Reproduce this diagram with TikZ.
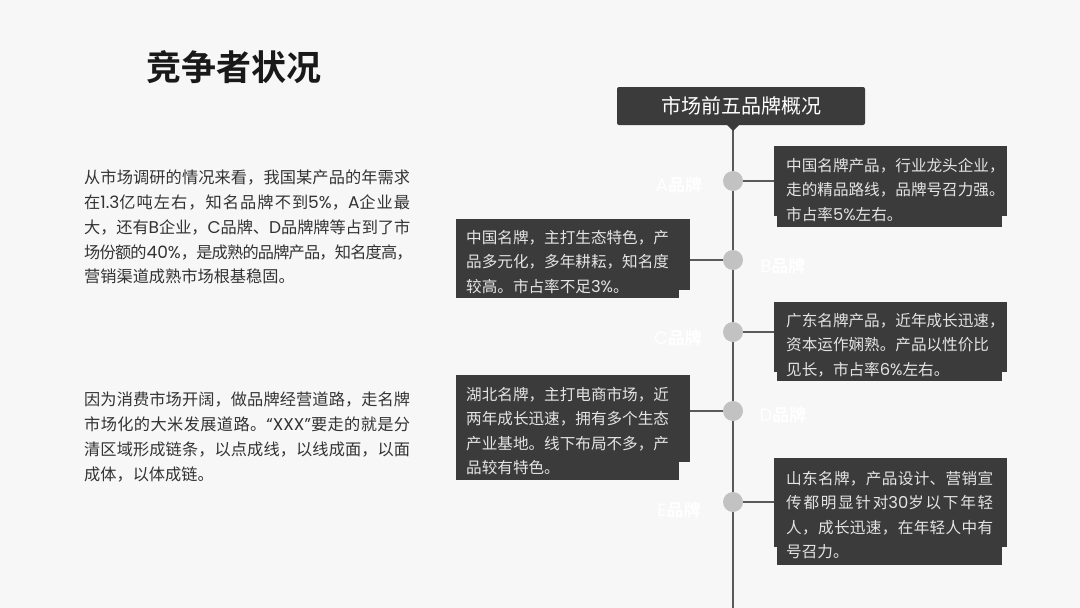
\documentclass[tikz,border=0pt]{standalone}
\usepackage{fontspec}
\setmainfont{Noto Sans CJK SC}
\newfontfamily\cjkbold{Noto Sans CJK SC Bold}
\newfontfamily\latfont{Poppins}[Scale=1.05]
\newcommand\latn[1]{{\latfont #1}}
\newXeTeXintercharclass\cjkcls
\newcount\cjkc
\cjkc="4E00
\loop \XeTeXcharclass\cjkc=\cjkcls \advance\cjkc by 1 \ifnum\cjkc<"A000 \repeat
\XeTeXcharclass"FF0C=\cjkcls
\XeTeXcharclass"3002=\cjkcls
\XeTeXcharclass"3001=\cjkcls
\XeTeXinterchartokenstate=1
\XeTeXinterchartoks\cjkcls\cjkcls={\hskip 0pt plus 2pt minus 0.8pt\relax}
\XeTeXinterchartoks 0 \cjkcls={\hskip 0pt plus 2pt minus 0.8pt\relax}
\XeTeXinterchartoks\cjkcls 0 ={\hskip 0pt plus 2pt minus 0.8pt\relax}
\newcommand\jline[2]{\hbox to #1{#2}}
\definecolor{bg}{HTML}{F7F7F7}
\definecolor{boxc}{HTML}{3B3B3B}
\definecolor{linec}{HTML}{5A5A5A}
\definecolor{dotc}{HTML}{C2C2C2}
\definecolor{bodytxt}{HTML}{333333}
\definecolor{boxtxt}{HTML}{E4E4E4}
\begin{document}
\begin{tikzpicture}[x=1pt,y=-1pt,
 para/.style={anchor=north west, inner sep=0pt, align=left, text=bodytxt, font=\fontsize{16.2}{24.75}\selectfont},
 boxtext/.style={anchor=north west, inner sep=0pt, align=left, text=boxtxt, font=\fontsize{15.6}{24.5}\selectfont},
 card/.style={fill=boxc, draw=none, anchor=north west, inner sep=0pt},
 dot/.style={circle, fill=dotc, minimum size=20pt, inner sep=0pt},
 spine/.style={draw=linec, line width=1.8pt},
 link/.style={draw=linec, line width=1.5pt},
 tag/.style={text=white, font=\cjkbold\fontsize{17}{17}\selectfont, inner sep=0pt}]
\fill[bg] (0,0) rectangle (1080,608);
\useasboundingbox (0,0) rectangle (1080,608);

% title
\node[text=black!90, font=\cjkbold\fontsize{35}{35}\selectfont, inner sep=0pt] (title) at (234,67) {竞争者状况};

% left paragraphs
\node[para] (p1) at (84,170) {\jline{326pt}{从市场调研的情况来看，我国某产品的年需求}\\
\jline{326pt}{在\latn{1.3}亿吨左右，知名品牌不到\latn{5\%}，\latn{A}企业最}\\
\jline{326pt}{大，还有\latn{B}企业，\latn{C}品牌、\latn{D}品牌牌等占到了市}\\
\jline{326pt}{场份额的\latn{40\%}，是成熟的品牌产品，知名度高，}\\
营销渠道成熟市场根基稳固。};
\node[para] (p2) at (84,392) {\jline{326pt}{因为消费市场开阔，做品牌经营道路，走名牌}\\
\jline{326pt}{市场化的大米发展道路。\latn{“XXX”}要走的就是分}\\
\jline{326pt}{清区域形成链条，以点成线，以线成面，以面}\\
成体，以体成链。};

% spine
\coordinate (spineTop) at (733,125);
\coordinate (spineEnd) at (733,608);
\draw[spine] (spineTop) -- (spineEnd);

% header
\node[fill=boxc, rounded corners=2pt, minimum width=248pt, minimum height=38pt, inner sep=0pt,
      text=white, font=\fontsize{20}{20}\selectfont] (head) at (741,106) {市场前五品牌概况};
\fill[boxc] (726,124) -- (740,124) -- (733,131) -- cycle;

% cards
\fill[boxc] (777,150) rectangle (1002,227);
\node[card, minimum width=233pt, minimum height=70pt] (cardA) at (774,146) {};
\fill[boxc] (456,225) rectangle (679,298);
\node[card, minimum width=234pt, minimum height=71pt] (cardB) at (456,219) {};
\fill[boxc] (777,306) rectangle (1002,381);
\node[card, minimum width=233pt, minimum height=70pt] (cardC) at (774,302) {};
\fill[boxc] (456,382) rectangle (679,480);
\node[card, minimum width=234pt, minimum height=87pt] (cardD) at (456,375) {};
\fill[boxc] (777,465) rectangle (1002,565);
\node[card, minimum width=233pt, minimum height=89pt] (cardE) at (774,458) {};

% dots
\node[dot] (dotA) at (733,181) {};
\node[dot] (dotB) at (733,260) {};
\node[dot] (dotC) at (733,332) {};
\node[dot] (dotD) at (733,411) {};
\node[dot] (dotE) at (733,502) {};

% links
\draw[link] (dotA.east) -- (dotA -| cardA.west);
\draw[link] (dotB.west) -- (dotB -| cardB.east);
\draw[link] (dotC.east) -- (dotC -| cardC.west);
\draw[link] (dotD.west) -- (dotD -| cardD.east);
\draw[link] (dotE.east) -- (dotE -| cardE.west);

% card texts
\node[boxtext] (tA) at (786,158) {中国名牌产品，行业龙头企业，\\走的精品路线，品牌号召力强。\\市占率\latn{5\%}左右。};
\node[boxtext] (tB) at (466,230) {中国名牌，主打生态特色，产\\品多元化，多年耕耘，知名度\\较高。市占率不足\latn{3\%}。};
\node[boxtext] (tC) at (786,313) {广东名牌产品，近年成长迅速，\\资本运作娴熟。产品以性价比\\见长，市占率\latn{6\%}左右。};
\node[boxtext] (tD) at (466,387) {湖北名牌，主打电商市场，近\\两年成长迅速，拥有多个生态\\产业基地。线下布局不多，产\\品较有特色。};
\node[boxtext] (tE) at (786,471) {\jline{207pt}{山东名牌，产品设计、营销宣}\\
\jline{207pt}{传都明显针对\latn{30}岁以下年轻}\\
\jline{207pt}{人，成长迅速，在年轻人中有}\\
号召力。};

% tags
\node[tag] (tagA) at (679,185) {\latn{A}品牌};
\node[tag] (tagB) at (783,266) {\latn{B}品牌};
\node[tag] (tagC) at (678,338) {\latn{C}品牌};
\node[tag] (tagD) at (783,415) {\latn{D}品牌};
\node[tag] (tagE) at (679,510) {\latn{E}品牌};
\end{tikzpicture}
\end{document}
